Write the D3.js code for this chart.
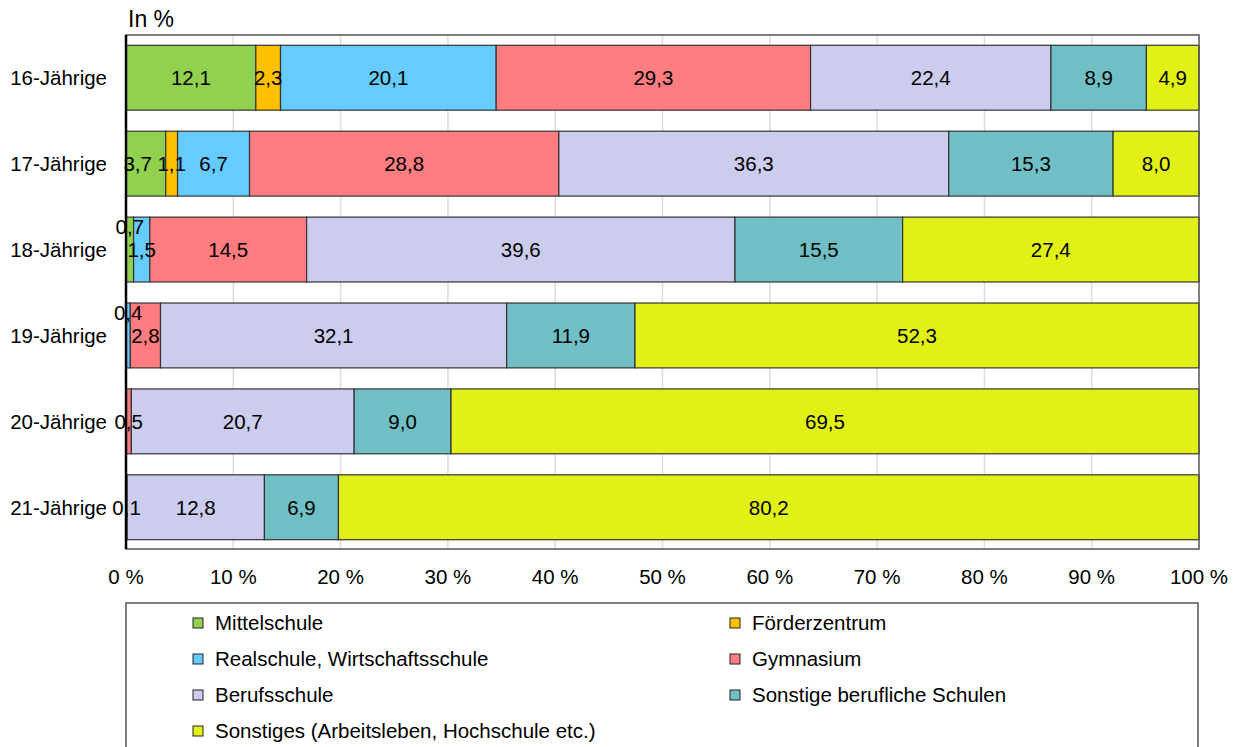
<!DOCTYPE html>
<html>
<head>
<meta charset="utf-8">
<script src="https://cdn.jsdelivr.net/npm/d3@7"></script>
<style>
  html, body { margin: 0; padding: 0; background: #fff; }
  svg { display: block; font-family: "Liberation Sans", Arial, sans-serif; }
</style>
</head>
<body>
<svg id="chart" width="1238" height="747"></svg>
<script>
// Altersgruppen (Zeilen des Balkendiagramms)
const ageGroups = ["16-Jährige", "17-Jährige", "18-Jährige", "19-Jährige", "20-Jährige", "21-Jährige"];

// Schularten / Verbleib (Reihen, in Stapelreihenfolge)
const seriesNames = [
  "Mittelschule",
  "Förderzentrum",
  "Realschule, Wirtschaftsschule",
  "Gymnasium",
  "Berufsschule",
  "Sonstige berufliche Schulen",
  "Sonstiges (Arbeitsleben, Hochschule etc.)"
];

// Anteile in %, je Reihe ein Wert pro Altersgruppe (0 = nicht vorhanden)
const mittelschule   = [12.1, 3.7, 0.7, 0,   0,   0];
const foerderzentrum = [2.3,  1.1, 0,   0,   0,   0];
const realschule     = [20.1, 6.7, 1.5, 0.4, 0,   0];
const gymnasium      = [29.3, 28.8, 14.5, 2.8, 0.5, 0.1];
const berufsschule   = [22.4, 36.3, 39.6, 32.1, 20.7, 12.8];
const sonstBeruf     = [8.9,  15.3, 15.5, 11.9, 9.0, 6.9];
const sonstiges      = [4.9,  8.0, 27.4, 52.3, 69.5, 80.2];

const xTicks = [0, 10, 20, 30, 40, 50, 60, 70, 80, 90, 100];

const seriesValues = [mittelschule, foerderzentrum, realschule, gymnasium, berufsschule, sonstBeruf, sonstiges];
const colors = ["#92D050", "#FFC000", "#66CCFF", "#FF7C80", "#CCCCEE", "#70BFC4", "#E1F116"];

const rows = ageGroups.map((g, i) => {
  const r = { group: g };
  seriesNames.forEach((s, k) => { r[s] = seriesValues[k][i]; });
  return r;
});

const FS = 20.5;
const svg = d3.select("#chart");
const plot = { left: 126, right: 1199, top: 35, bottom: 549 };

const x = d3.scaleLinear().domain([0, 1]).range([plot.left, plot.right]);
const y = d3.scaleBand().domain(ageGroups).range([plot.top, plot.bottom + 1])
  .paddingInner(0.245).paddingOuter(0.12);

// Gitterlinien
svg.append("g").selectAll("line").data(xTicks.slice(1, -1)).join("line")
  .attr("x1", d => x(d / 100)).attr("x2", d => x(d / 100))
  .attr("y1", plot.top).attr("y2", plot.bottom)
  .attr("stroke", "#dcdcdc").attr("stroke-width", 1.5);

// 100%-gestapelte Balken
const stack = d3.stack().keys(seriesNames).offset(d3.stackOffsetExpand);
const layers = stack(rows);

const barG = svg.append("g");
layers.forEach((layer, k) => {
  barG.append("g").selectAll("rect").data(layer.filter(d => d.data[seriesNames[k]] > 0)).join("rect")
    .attr("x", d => x(d[0]))
    .attr("y", d => y(d.data.group))
    .attr("width", d => x(d[1]) - x(d[0]))
    .attr("height", y.bandwidth())
    .attr("fill", colors[k])
    .attr("stroke", "#333")
    .attr("stroke-width", 1.2);
});

// Rahmen des Diagrammbereichs
svg.append("rect")
  .attr("x", plot.left).attr("y", plot.top)
  .attr("width", plot.right - plot.left).attr("height", plot.bottom - plot.top)
  .attr("fill", "none").attr("stroke", "#555").attr("stroke-width", 1.5);

// linke Achse (kräftig)
svg.append("line")
  .attr("x1", plot.left).attr("x2", plot.left)
  .attr("y1", plot.top).attr("y2", plot.bottom)
  .attr("stroke", "#000").attr("stroke-width", 2.5);

// Datenbeschriftungen; eng beieinanderliegende Werte werden versetzt
const fmt = v => d3.format(".1f")(v).replace(".", ",");
ageGroups.forEach((g, i) => {
  const labels = [];
  layers.forEach((layer, k) => {
    const d = layer[i];
    const v = d.data[seriesNames[k]];
    if (v > 0) labels.push({ cx: (x(d[0]) + x(d[1])) / 2, v });
  });
  labels.forEach((l, j) => {
    const next = labels[j + 1];
    const dist = next ? next.cx - l.cx : Infinity;
    l.dy = dist < 20 ? -23 : 0;
    l.dx = (dist >= 20 && dist < 34) ? -(34 - dist) : 0;
  });
  svg.append("g").selectAll("text").data(labels).join("text")
    .attr("x", l => l.cx + l.dx)
    .attr("y", l => y(g) + y.bandwidth() / 2 + l.dy)
    .attr("dy", "0.36em")
    .attr("text-anchor", "middle")
    .attr("font-size", FS)
    .attr("fill", "#000")
    .text(l => fmt(l.v));
});

// Kategorienbeschriftung
svg.append("g").selectAll("text").data(ageGroups).join("text")
  .attr("x", 107)
  .attr("y", d => y(d) + y.bandwidth() / 2)
  .attr("dy", "0.36em")
  .attr("text-anchor", "end")
  .attr("font-size", FS)
  .text(d => d);

// x-Achsenbeschriftung
svg.append("g").selectAll("text").data(xTicks).join("text")
  .attr("x", d => x(d / 100))
  .attr("y", 577)
  .attr("dy", "0.36em")
  .attr("text-anchor", "middle")
  .attr("font-size", FS)
  .text(d => d + " %");

// Einheit
svg.append("text").attr("x", 128).attr("y", 19).attr("dy", "0.36em")
  .attr("font-size", 23).text("In %");

// Legende
svg.append("rect")
  .attr("x", 126).attr("y", 603).attr("width", 1072).attr("height", 160)
  .attr("fill", "#fff").attr("stroke", "#555").attr("stroke-width", 1.5);

const legendOrder = [0, 1, 2, 3, 4, 5, 6];
const lg = svg.append("g").selectAll("g").data(legendOrder).join("g")
  .attr("transform", (k, idx) => `translate(${idx % 2 === 0 ? 193 : 730}, ${623 + Math.floor(idx / 2) * 36})`);
lg.append("rect").attr("x", 0).attr("y", -5).attr("width", 10).attr("height", 10)
  .attr("fill", k => colors[k]).attr("stroke", "#222").attr("stroke-width", 1);
lg.append("text").attr("x", 22).attr("y", 0).attr("dy", "0.36em")
  .attr("font-size", FS).text(k => seriesNames[k]);
</script>
</body>
</html>
